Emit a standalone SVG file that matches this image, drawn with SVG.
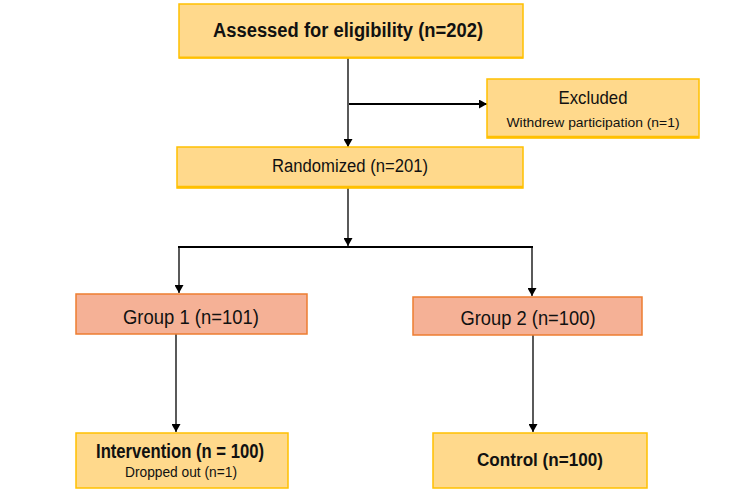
<svg xmlns="http://www.w3.org/2000/svg" width="750" height="499" viewBox="0 0 750 499">
<defs>
<marker id="ah" markerWidth="8" markerHeight="9" refX="8" refY="4.5" orient="auto" markerUnits="userSpaceOnUse">
<path d="M0,0 L8,4.5 L0,9 Z" fill="#000"/>
</marker>
<style>
.y{fill:#FFD98C;stroke:#FFC000;stroke-width:1.5}
.o{fill:#F5B196;stroke:#ED7D31;stroke-width:1.5}
.t{font-family:"Liberation Sans",Arial,sans-serif;fill:#111;text-anchor:middle}
.b{font-weight:bold}
.c{stroke:#000;fill:none;stroke-width:1.3}
.w{stroke-width:2}
</style>
</defs>
<rect width="750" height="499" fill="#fff"/>
<g id="connectors">
<path class="c" d="M348,58 V147" marker-end="url(#ah)"/>
<path class="c w" d="M349,104 H487" marker-end="url(#ah)"/>
<path class="c" d="M348,188 V246" marker-end="url(#ah)"/>
<path class="c w" d="M178,247 H533"/>
<path class="c" d="M179,247 V293" marker-end="url(#ah)"/>
<path class="c" d="M532,247 V296" marker-end="url(#ah)"/>
<path class="c" d="M176,334 V432" marker-end="url(#ah)"/>
<path class="c" d="M533,335 V432" marker-end="url(#ah)"/>
</g>
<g id="assessed">
<rect class="y" x="179" y="4" width="344" height="54"/>
<line x1="179" y1="57.5" x2="523" y2="57.5" stroke="#FFC000" stroke-width="2"/>
<text class="t b" x="348" y="37" font-size="20" textLength="270" lengthAdjust="spacingAndGlyphs">Assessed for eligibility (n=202)</text>
</g>
<g id="excluded">
<rect class="y" x="487" y="79" width="212" height="59"/>
<line x1="487" y1="137" x2="699" y2="137" stroke="#FFC000" stroke-width="2.5"/>
<text class="t" x="593" y="104" font-size="19" textLength="69" lengthAdjust="spacingAndGlyphs">Excluded</text>
<text class="t" x="593" y="127" font-size="13.5" textLength="173" lengthAdjust="spacingAndGlyphs">Withdrew participation (n=1)</text>
</g>
<g id="randomized">
<rect class="y" x="177" y="147" width="346" height="41"/>
<line x1="177" y1="187" x2="523" y2="187" stroke="#FFC000" stroke-width="2.5"/>
<text class="t" x="350" y="172" font-size="18" textLength="156" lengthAdjust="spacingAndGlyphs">Randomized (n=201)</text>
</g>
<g id="group1">
<rect class="o" x="76" y="294" width="231" height="40"/>
<text class="t" x="191" y="324" font-size="20" textLength="136" lengthAdjust="spacingAndGlyphs">Group 1 (n=101)</text>
</g>
<g id="group2">
<rect class="o" x="413" y="297" width="229" height="38"/>
<text class="t" x="528" y="325" font-size="20" textLength="135" lengthAdjust="spacingAndGlyphs">Group 2 (n=100)</text>
</g>
<g id="intervention">
<rect class="y" x="76" y="433" width="212" height="55"/>
<text class="t b" x="180" y="458" font-size="20" textLength="168" lengthAdjust="spacingAndGlyphs">Intervention (n = 100)</text>
<text class="t" x="181" y="477" font-size="14" textLength="112" lengthAdjust="spacingAndGlyphs">Dropped out (n=1)</text>
</g>
<g id="control">
<rect class="y" x="433" y="433" width="214" height="55"/>
<text class="t b" x="540" y="466" font-size="19" textLength="126" lengthAdjust="spacingAndGlyphs">Control (n=100)</text>
</g>
</svg>
